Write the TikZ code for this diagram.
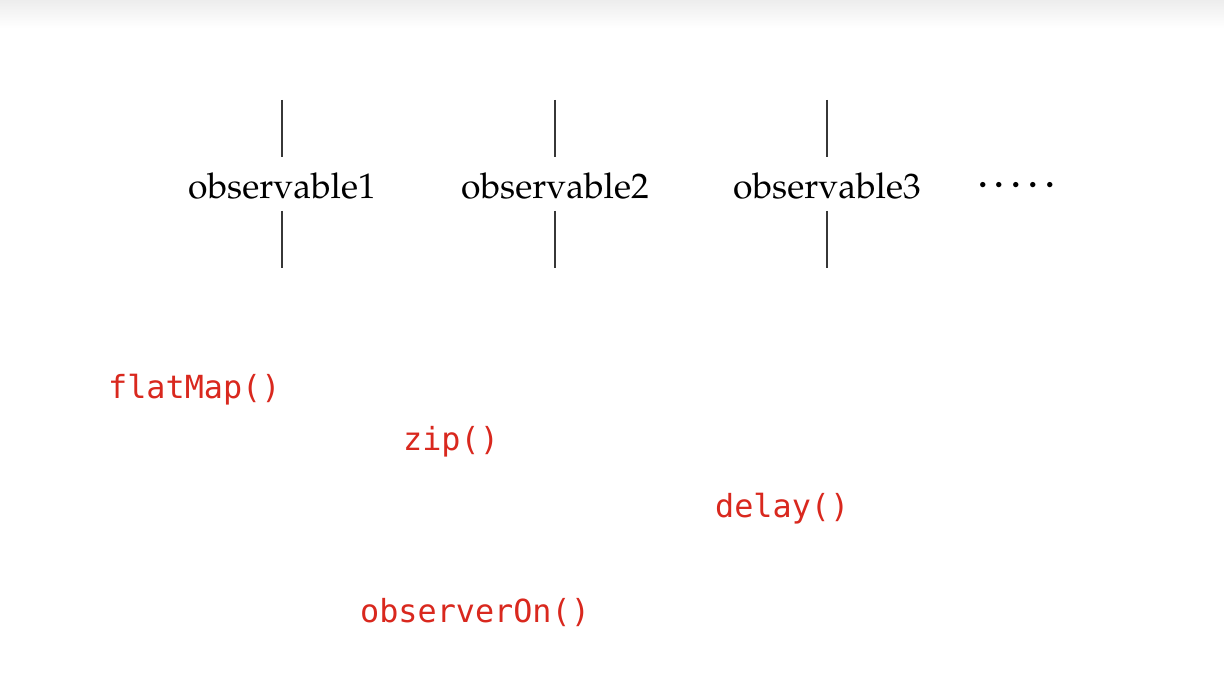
\documentclass[tikz,border=0pt]{standalone}
\usepackage{fontspec}
\newfontfamily\codefont{DejaVu Sans Mono}
\newcommand{\palfont}{\fontencoding{T1}\fontfamily{ppl}\selectfont}
\definecolor{opred}{RGB}{217,40,30}
\definecolor{tickgray}{RGB}{55,55,55}
\begin{document}
\begin{tikzpicture}[x=1pt,y=-1pt,
  obs/.style={inner sep=0pt,anchor=base,font=\palfont\fontsize{35.5}{38}\selectfont},
  op/.style={inner sep=0pt,anchor=base west,text=opred,font=\codefont\fontsize{31.8}{34}\selectfont},
  tick/.style={draw=tickgray,line width=1.3pt}]
\useasboundingbox (0,0) rectangle (1224,692);
\fill[white] (0,0) rectangle (1224,692);
\shade[top color=black!7,bottom color=white] (0,0) rectangle (1224,28);
% observables
\node[obs] (o1) at (282,199) {observable1};
\node[obs] (o2) at (555,199) {observable2};
\node[obs] (o3) at (827,199) {observable3};
\node[inner sep=0pt,anchor=base west,font=\palfont\fontsize{46}{48}\selectfont] (dots) at (977,188) {.\hspace{5.2pt}.\hspace{5.2pt}.\hspace{5.2pt}.\hspace{5.2pt}.};
% ticks
\foreach \n/\x in {o1/282,o2/555,o3/827}{
  \coordinate (\n a) at (\x,100);
  \coordinate (\n b) at (\x,157);
  \coordinate (\n c) at (\x,211);
  \coordinate (\n d) at (\x,268);
  \draw[tick] (\n a) -- (\n b);
  \draw[tick] (\n c) -- (\n d);
}
% operators
\node[op] (flat) at (108,399) {flatMap()};
\node[op] (zip) at (403,451) {zip()};
\node[op] (delay) at (715,517) {delay()};
\node[op] (obson) at (360,622) {observerOn()};
\end{tikzpicture}
\end{document}
